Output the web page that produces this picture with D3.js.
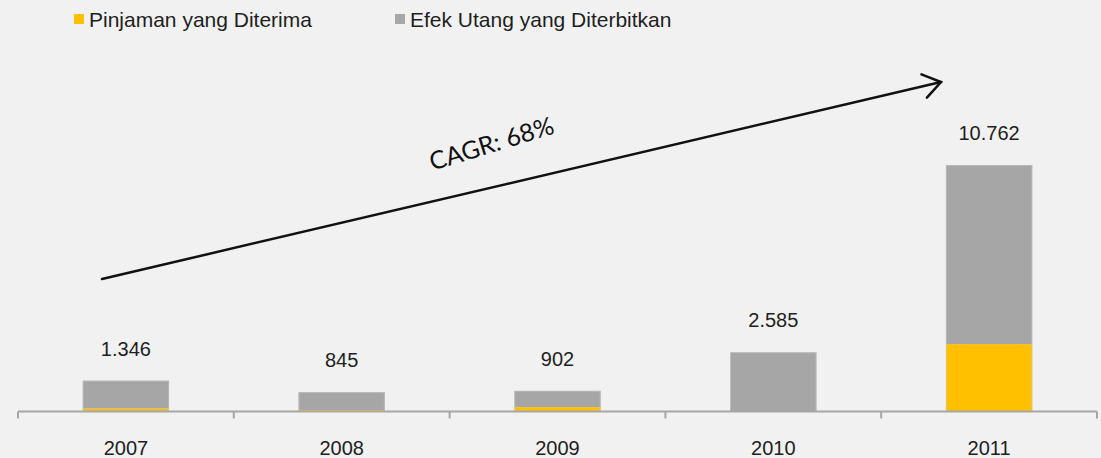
<!DOCTYPE html>
<html>
<head>
<meta charset="utf-8">
<script src="https://cdn.jsdelivr.net/npm/d3@7"></script>
<style>
  html, body { margin: 0; padding: 0; background: #f1f1f1; }
  svg { display: block; }
</style>
</head>
<body>
<svg id="chart" width="1101" height="458"></svg>
<script>
// ---- data ----
const years = ["2007", "2008", "2009", "2010", "2011"];
const pinjaman = [130, 60, 190, 0, 2940];          // Pinjaman yang Diterima
const efekUtang = [1216, 785, 712, 2585, 7822];    // Efek Utang yang Diterbitkan
const totalLabels = ["1.346", "845", "902", "2.585", "10.762"];
const seriesNames = ["Pinjaman yang Diterima", "Efek Utang yang Diterbitkan"];
const cagrLabel = "CAGR: 68%";

// ---- setup ----
const W = 1101, H = 458;
const svg = d3.select("#chart");
svg.append("rect").attr("width", W).attr("height", H).attr("fill", "#f1f1f1");

const colors = { pinjaman: "#FFC000", efek: "#A6A6A6" };

const rows = years.map((y, i) => ({ year: y, pinjaman: pinjaman[i], efek: efekUtang[i], label: totalLabels[i] }));
const stack = d3.stack().keys(["pinjaman", "efek"]);
const layers = stack(rows);

const x = d3.scaleBand().domain(years).range([18, 1097]).paddingInner(0.6).paddingOuter(0.3);
const maxTotal = d3.max(rows, d => d.pinjaman + d.efek);
const y = d3.scaleLinear().domain([0, maxTotal]).range([411.5, 165]);

// bars
svg.append("g").selectAll("g").data(layers).join("g")
  .attr("fill", d => colors[d.key])
  .selectAll("rect").data(d => d).join("rect")
  .attr("x", d => x(d.data.year))
  .attr("y", d => y(d[1]))
  .attr("width", x.bandwidth())
  .attr("height", d => Math.max(0, y(d[0]) - y(d[1])));

// light edge around bars
svg.append("g").selectAll("rect").data(rows).join("rect")
  .attr("x", d => x(d.year) + 0.5)
  .attr("y", d => y(d.pinjaman + d.efek) + 0.5)
  .attr("width", x.bandwidth() - 1)
  .attr("height", d => y(0) - y(d.pinjaman + d.efek) - 0.5)
  .attr("fill", "none")
  .attr("stroke", "#c4c4c4")
  .attr("stroke-width", 1)
  .attr("stroke-opacity", 0.6);

// x axis
const axisG = svg.append("g").attr("transform", `translate(0,${y(0)})`);
axisG.append("line").attr("x1", 18).attr("x2", 1097).attr("y1", 0).attr("y2", 0)
  .attr("stroke", "#a6a6a6").attr("stroke-width", 2);
const boundaries = years.map(yr => x(yr) - x.step() * x.paddingOuter()).concat([1097]);
axisG.selectAll("line.tick").data(boundaries).join("line")
  .attr("class", "tick")
  .attr("x1", d => d).attr("x2", d => d)
  .attr("y1", 0).attr("y2", 7)
  .attr("stroke", "#a6a6a6").attr("stroke-width", 2);

svg.append("g").selectAll("text").data(years).join("text")
  .attr("x", d => x(d) + x.bandwidth() / 2)
  .attr("y", 455)
  .attr("text-anchor", "middle")
  .attr("font-family", "Liberation Sans, Arial, sans-serif")
  .attr("font-size", 20)
  .attr("fill", "#1e1e1e")
  .text(d => d);

// value labels
svg.append("g").selectAll("text").data(rows).join("text")
  .attr("x", d => x(d.year) + x.bandwidth() / 2)
  .attr("y", d => y(d.pinjaman + d.efek) - 25)
  .attr("text-anchor", "middle")
  .attr("font-family", "Liberation Sans, Arial, sans-serif")
  .attr("font-size", 20)
  .attr("fill", "#1e1e1e")
  .text(d => d.label);

// legend
const legend = svg.append("g");
const legendItems = [
  { name: seriesNames[0], color: colors.pinjaman, x: 74 },
  { name: seriesNames[1], color: colors.efek, x: 395 }
];
legendItems.forEach(it => {
  legend.append("rect").attr("x", it.x).attr("y", 14).attr("width", 10).attr("height", 10).attr("fill", it.color);
  legend.append("text").attr("x", it.x + 15).attr("y", 27)
    .attr("font-family", "Liberation Sans, Arial, sans-serif")
    .attr("font-size", 21)
    .attr("fill", "#1e1e1e")
    .text(it.name);
});

// CAGR arrow
const a0 = [102, 279], a1 = [941, 82];
const ang = Math.atan2(a1[1] - a0[1], a1[0] - a0[0]);
const armLen = 21, armAng = Math.PI / 5.2;
const arr = svg.append("g").attr("stroke", "#111").attr("stroke-width", 2.5).attr("fill", "none").attr("stroke-linecap", "round");
arr.append("line").attr("x1", a0[0]).attr("y1", a0[1]).attr("x2", a1[0]).attr("y2", a1[1]);
arr.append("path").attr("d", d3.line()([
  [a1[0] - armLen * Math.cos(ang - armAng), a1[1] - armLen * Math.sin(ang - armAng)],
  a1,
  [a1[0] - armLen * Math.cos(ang + armAng), a1[1] - armLen * Math.sin(ang + armAng)]
])).attr("stroke-linejoin", "miter");

svg.append("text")
  .attr("transform", "translate(494,152) rotate(-17)")
  .attr("text-anchor", "middle")
  .attr("font-family", "Lato, Open Sans, sans-serif")
  .attr("font-size", 25)
  .attr("fill", "#111")
  .text(cagrLabel);
</script>
</body>
</html>
